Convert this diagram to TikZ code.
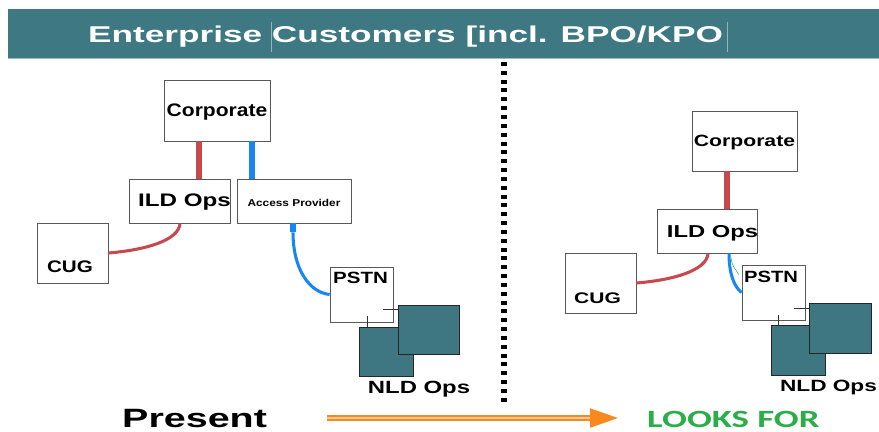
\documentclass[tikz,border=0pt]{standalone}
\usepackage{fontspec}
\setmainfont{Liberation Sans}
\newfontfamily\looksfont{Carlito}
\usepackage{graphicx}
\usetikzlibrary{arrows.meta,positioning,calc}
\definecolor{bandteal}{RGB}{62,120,131}
\definecolor{opsteal}{RGB}{62,118,130}
\definecolor{wirered}{RGB}{200,72,78}
\definecolor{wireblue}{RGB}{22,134,245}
\definecolor{flowline}{RGB}{247,137,30}
\definecolor{looksgreen}{RGB}{43,174,74}
\newcommand{\wide}[2]{\scalebox{#1}[1]{#2}}

\begin{document}
\begin{tikzpicture}[x=0.03cm, y=-0.03cm,
    box/.style={rectangle, draw=black!65, line width=0.7pt, fill=white, inner sep=0pt},
    ops/.style={rectangle, draw=black!85, line width=0.75pt, fill=opsteal, inner sep=0pt},
    lbl/.style={inner sep=0pt, anchor=base, font=\fontsize{#1}{#1}\selectfont\bfseries},
    trunk/.style={line width=4.3pt},
    link/.style={line width=2.6pt},
    tick/.style={draw=black!80, line width=0.6pt},
    flow/.style={draw=flowline, double=flowline!45, double distance=0.06cm, line width=0.065cm,
        shorten <=1.8cm, shorten >=0.87cm, -{Triangle[length=0.84cm, width=0.57cm]}}
]
    \useasboundingbox (0,0) rectangle (879,432);

    % Title band
    \fill[bandteal] (8,9) rectangle (879,58);
    \draw[bandteal!50!white, line width=0.8pt] (8,58.5) -- (879,58.5);
    \draw[bandteal!55!white, line width=0.4pt] (271,22) -- (271,52);
    \draw[bandteal!55!white, line width=0.4pt] (727,22) -- (727,52);
    \node[anchor=base west, inner sep=0pt, text=white, font=\fontsize{19.5}{19.5}\selectfont\bfseries] (title) at (88,43) {\wide{1.54}{Enterprise Customers [incl. BPO/KPO}};

    % Present (left half)
    \node[box, minimum width=3.18cm, minimum height=1.83cm] (corpL) at (217,110.5) {};
    \node[box, minimum width=3.03cm, minimum height=1.32cm] (ildL) at (179.5,201) {};
    \node[box, minimum width=3.42cm, minimum height=1.32cm] (accL) at (294,201) {};
    \node[box, minimum width=2.13cm, minimum height=1.80cm] (cugL) at (72.5,253) {};
    \node[box, minimum width=1.89cm, minimum height=1.65cm] (pstnL) at (361.5,294.5) {};
    \node[ops, minimum width=1.62cm, minimum height=1.47cm] (nldLa) at (386,351.5) {};
    \node[ops, minimum width=1.83cm, minimum height=1.47cm] (nldLb) at (428.5,329.5) {};

    \node[lbl=15.5] (corpLtxt) at ($(corpL.center)+(0,6)$) {\wide{1.16}{Corporate}};
    \node[lbl=15.5] (ildLtxt) at ($(ildL.center)+(5,6)$) {\wide{1.33}{ILD Ops}};
    \node[lbl=8.5] (accLtxt) at ($(accL.center)+(0,6)$) {\wide{1.19}{Access Provider}};
    \node[lbl=14.3] (cugLtxt) at ($(cugL.center)+(-2.5,19.7)$) {\wide{1.23}{CUG}};
    \node[lbl=13.9] (pstnLtxt) at ($(pstnL.center)+(-1,-11)$) {\wide{1.26}{PSTN}};
    \node[lbl=15.1] (nldLtxt) at ($(nldLa.center)+(33,42)$) {\wide{1.35}{NLD Ops}};

    \draw[trunk, wirered] ($(corpL.south)+(-18,0)$) coordinate (rL) -- (rL |- ildL.north);
    \draw[trunk, wireblue] ($(corpL.south)+(35,0)$) coordinate (bL) -- (bL |- accL.north);
    \draw[link, wirered] ($(ildL.south)+(0.5,0)$) .. controls +(-1,17) and +(37,-3) .. (cugL.east);
    \draw[trunk, wireblue] ($(accL.south)+(-1,0)$) -- ++(0,9) coordinate (bL2);
    \draw[link, wireblue] (bL2) .. controls +(0,37) and +(-20,-2) .. (pstnL.west);
    \draw[tick] ($(nldLb.north west)+(-15,5)$) -- ($(nldLb.north west)+(0,5)$);
    \draw[tick] ($(nldLa.north west)+(9,-11)$) -- ($(nldLa.north west)+(9,0)$);

    % Divider
    \draw[black, line width=0.17cm, dash pattern=on 0.12cm off 0.145cm] (504,62) -- (504,402);

    % Looks for (right half)
    \node[box, minimum width=3.15cm, minimum height=1.80cm] (corpR) at (744.5,141) {};
    \node[box, minimum width=3.00cm, minimum height=1.32cm] (ildR) at (707,231) {};
    \node[box, minimum width=2.13cm, minimum height=1.80cm] (cugR) at (600.5,283) {};
    \node[box, minimum width=1.89cm, minimum height=1.65cm] (pstnR) at (773.5,292.5) {};
    \node[ops, minimum width=1.62cm, minimum height=1.50cm] (nldRa) at (798,350) {};
    \node[ops, minimum width=1.86cm, minimum height=1.50cm] (nldRb) at (840,328) {};

    \node[lbl=13.9] (corpRtxt) at ($(corpR.center)+(0,5.7)$) {\wide{1.3}{Corporate}};
    \node[lbl=14.7] (ildRtxt) at ($(ildR.center)+(5.5,6.3)$) {\wide{1.38}{ILD Ops}};
    \node[lbl=13.1] (cugRtxt) at ($(cugR.center)+(-3,20.3)$) {\wide{1.37}{CUG}};
    \node[lbl=13.9] (pstnRtxt) at ($(pstnR.center)+(-2.5,-9.8)$) {\wide{1.24}{PSTN}};
    \node[lbl=13.9] (nldRtxt) at ($(nldRa.center)+(30.5,41.7)$) {\wide{1.39}{NLD Ops}};

    \draw[trunk, wirered] ($(corpR.south)+(-17.5,0)$) coordinate (rR) -- (rR |- ildR.north);
    \draw[link, wirered] ($(ildR.south)+(1,0)$) .. controls +(-1,17) and +(37,-3) .. (cugR.east);
    \draw[link, wireblue] ($(ildR.south)+(22,0)$) .. controls +(0,19) and +(-8,-6) .. (pstnR.west);
    \draw[green!70!black, line width=0.4pt] ($(ildR.south)+(24,4)$) .. controls +(1,10) and +(-3,-6) .. ($(pstnR.west)+(-3,-18)$);
    \draw[tick] ($(nldRb.north west)+(-15,6)$) -- ($(nldRb.north west)+(0,6)$);
    \draw[tick] ($(nldRa.north west)+(8,-10)$) -- ($(nldRa.north west)+(8,0)$);

    % Bottom caption and arrow
    \node[anchor=base west, inner sep=0pt, font=\fontsize{22.6}{22.6}\selectfont\bfseries] (present) at (122,427) {\wide{1.49}{Present}};
    \node[anchor=base west, inner sep=0pt, text=looksgreen, font=\fontsize{21.2}{21.2}\looksfont\bfseries] (looks) at (647,427) {\wide{1.48}{LOOKS FOR}};
    \draw[flow] (present.east) -- (present.east -| looks.west);
\end{tikzpicture}
\end{document}
